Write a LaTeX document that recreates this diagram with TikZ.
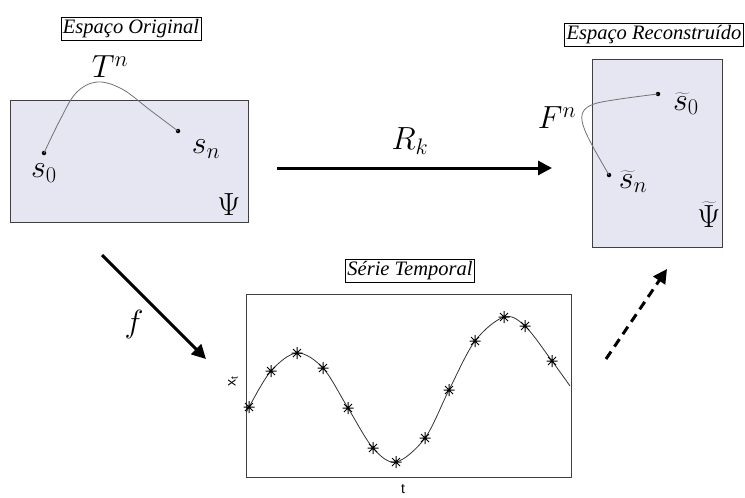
\RequirePackage{fix-cm}
\documentclass[tikz,border=0pt]{standalone}
\usepackage[no-math]{fontspec}
\setmainfont{Liberation Serif}
\setsansfont{Liberation Sans}
\usetikzlibrary{arrows.meta}
\definecolor{spacefill}{HTML}{E6E6F2}
\begin{document}
\begin{tikzpicture}[x=1pt,y=-1pt,
  space/.style={draw=black!75,line width=1.2pt,fill=spacefill,anchor=north west,inner sep=0pt},
  tag/.style={draw,fill=white,line width=0.6pt,font=\fontsize{20.5}{22}\selectfont\itshape,inner sep=2pt},
  mathlbl/.style={font=\fontsize{32}{34}\selectfont,inner sep=0pt},
  traj/.style={draw=black!55,line width=0.8pt},
  bigarrow/.style={line width=3pt,-{Triangle[length=14pt,width=14pt]}},
  dot/.style={circle,fill,inner sep=0pt,minimum size=4.5pt},
  axislbl/.style={font=\sffamily\fontsize{14}{16}\selectfont,inner sep=0pt}]
\useasboundingbox (0,0) rectangle (745,498);

% original space
\node[space,minimum width=238pt,minimum height=122pt] (orig) at (10,100) {};
\node[tag] (origtag) at (131,29) {Espaço Original};
\node[dot] (s0) at (44,153) {};
\node[dot] (sn) at (178,131) {};
\draw[traj] plot[smooth,tension=0.6] coordinates {(44,153) (60,120) (76,93) (97,82) (122,89) (150,110) (178,131)};
\node[mathlbl] (Tn) at (110,67) {$T^n$};
\node[mathlbl] (s0lbl) at (44,173) {$s_0$};
\node[mathlbl] (snlbl) at (206,149) {$s_n$};
\node[mathlbl] (psi) at (229,205) {$\Psi$};

% reconstructed space
\node[space,minimum width=130pt,minimum height=188pt] (recon) at (592,59) {};
\node[tag] (recontag) at (654,35) {Espaço Reconstruído};
\node[dot] (rs0) at (658,94) {};
\node[dot] (rsn) at (609,175) {};
\draw[traj] plot[smooth,tension=0.6] coordinates {(658,94) (620,99) (594,104) (583,112) (583,125) (592,145) (609,175)};
\node[mathlbl] (Fn) at (557,118) {$F^n$};
\node[mathlbl] (rs0lbl) at (686,104) {$\widetilde{s}_0$};
\node[mathlbl] (rsnlbl) at (633,182) {$\widetilde{s}_n$};
\node[mathlbl] (rpsi) at (709,215) {$\widetilde{\Psi}$};

% time series
\node[space,fill=white,minimum width=325pt,minimum height=183pt] (plotbox) at (246,294) {};
\node[tag] (sertag) at (410,271) {Série Temporal};
\draw[black!80,line width=0.8pt] plot[smooth,tension=0.55] coordinates {(247,412) (249,407) (271,371) (297,353) (323,368) (348,408) (373,448) (396,462) (425,438) (449,390) (475,341) (504,317) (525,326) (552,361) (570,386)};
\foreach \p in {(249,407),(271,371),(297,353),(323,368),(348,408),(373,448),(396,462),(425,438),(449,390),(475,341),(504,317),(525,326),(552,361)}{
  \draw[line width=1pt] \p ++(-5.5,0) -- ++(11,0) \p ++(0,-6) -- ++(0,12)
    \p ++(-4,-4) -- ++(8,8) \p ++(-4,4) -- ++(8,-8);
}
\node[axislbl,rotate=90] (xlab) at (233,381) {x\textsubscript{t}};
\node[axislbl] (tlab) at (403,489) {t};

% arrows
\coordinate (rkA) at (277,168);
\coordinate (rkB) at (552,168);
\draw[bigarrow] (rkA) -- (rkB);
\node[mathlbl] (Rk) at (410,141) {$R_k$};

\coordinate (fA) at (102,255);
\coordinate (fB) at (206,359);
\draw[bigarrow] (fA) -- (fB);
\node[mathlbl] (flbl) at (134,324) {$f$};

\coordinate (dA) at (606,359);
\coordinate (dB) at (667,269);
\draw[bigarrow,dash pattern=on 9pt off 6pt] (dA) -- (dB);
\end{tikzpicture}
\end{document}
